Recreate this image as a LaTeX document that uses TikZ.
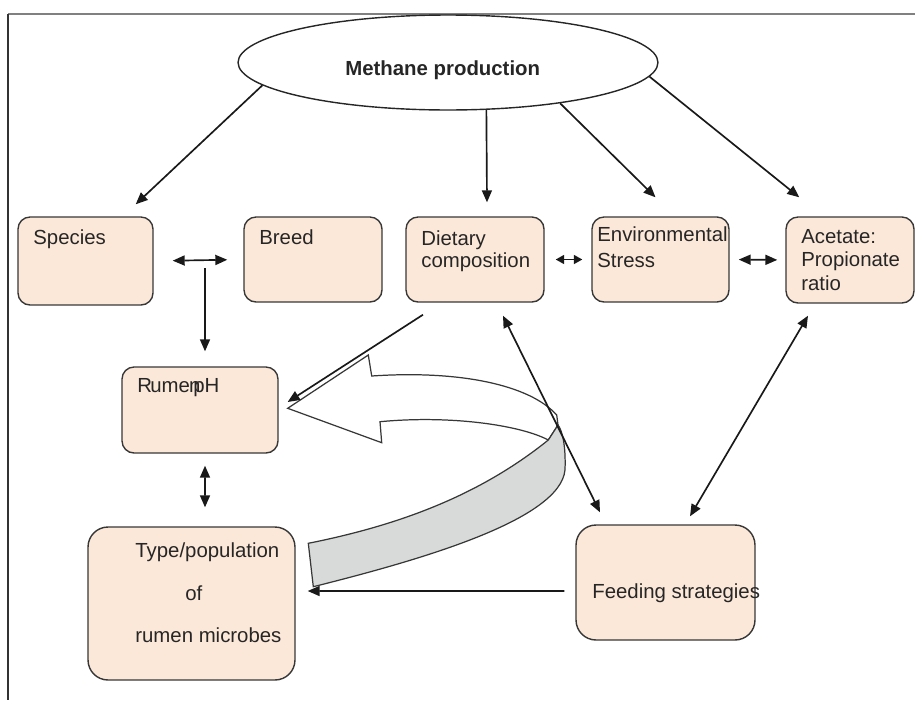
\documentclass[tikz,border=0pt]{standalone}
\usepackage{fontspec}
\setmainfont{Liberation Sans}
\usetikzlibrary{shapes.geometric,arrows.meta}
\definecolor{boxfill}{RGB}{252,232,217}
\definecolor{ribbon}{RGB}{216,218,217}
\definecolor{edge}{RGB}{55,55,55}
\begin{document}
\begin{tikzpicture}[x=0.02cm,y=-0.02cm,
  box/.style={draw=edge, line width=0.8pt, fill=boxfill, rounded corners=0.24cm, inner sep=0pt},
  txt/.style={inner sep=0pt, anchor=north west, align=left, text=black!85,
    font=\fontsize{11.6}{13.4}\selectfont},
  arr/.style={-{Triangle[length=0.24cm,width=0.2cm]}, line width=0.95pt, draw=black!90},
  dbl/.style={{Triangle[length=0.24cm,width=0.2cm]}-{Triangle[length=0.24cm,width=0.2cm]},
    line width=0.95pt, draw=black!90},
  shortdbl/.style={{Triangle[length=0.17cm,width=0.18cm]}-{Triangle[length=0.17cm,width=0.18cm]},
    line width=0.95pt, draw=black!90}]
  \useasboundingbox (0,0) rectangle (915,700);
  % frame
  \draw[gray, line width=1.1pt] (8,14) -- (915,14);
  \draw[black!80, line width=0.6pt] (8,14) -- (8,700);

  % twisted block arrow
  \draw[edge, line width=0.7pt, fill=white] (287.7,408.3) -- (368.3,355) -- (371.7,376)
    .. controls (460,370) and (530,385) .. (556.7,415) -- (558,425) -- (548.3,440)
    .. controls (520,425) and (450,415) .. (380,421.7) -- (381.7,442.7) -- cycle;
  \draw[edge, line width=0.7pt, fill=ribbon] (548.3,440)
    .. controls (480,495) and (400,525) .. (308.3,543.3) -- (313.3,586.7)
    .. controls (420,560) and (560,520) .. (565,470)
    .. controls (566,445) and (562,430) .. (558,425) -- cycle;

  \node[ellipse, draw=black!85, line width=0.8pt, minimum width=8.4cm, minimum height=1.9cm, inner sep=0pt] (meth) at (448,62.5) {};
  \node[box, minimum width=2.70cm, minimum height=1.76cm] (species) at (85.5,261) {};
  \node[box, minimum width=2.76cm, minimum height=1.70cm] (breed) at (313,259.5) {};
  \node[box, minimum width=2.76cm, minimum height=1.70cm] (diet) at (475,259.5) {};
  \node[box, minimum width=2.74cm, minimum height=1.70cm] (env) at (660.5,259.5) {};
  \node[box, minimum width=2.56cm, minimum height=1.72cm] (acet) at (850,260) {};
  \node[box, minimum width=3.12cm, minimum height=1.72cm] (ph) at (200,410) {};
  \node[box, minimum width=4.14cm, minimum height=3.06cm, rounded corners=0.4cm] (microbes) at (191.5,603.5) {};
  \node[box, minimum width=3.58cm, minimum height=2.30cm, rounded corners=0.4cm] (feed) at (665.5,582.5) {};

  \node[txt, font=\bfseries\fontsize{11.6}{13.4}\selectfont] (tmeth) at (345,60) {Methane production};
  \node[txt] (tspecies) at (33,229) {Species};
  \node[txt] (tbreed) at (259,229) {Breed};
  \node[txt] (tdiet) at (421,230) {Dietary\\[-0.9pt]composition};
  \node[txt] (tenv) at (597,226) {Environmental\\[1.4pt]Stress};
  \node[txt] (tacet) at (801,229) {Acetate:\\Propionate\\ratio};
  \node[txt] (tph) at (137,378) {R\kern-1pt ume\kern-.5pt n\kern-4pt pH};
  \node[txt] (tmicro) at (135,542) {Type/population\\[11pt]\hspace*{1cm}of\\[11pt]rumen microbes};
  \node[txt] (tfeed) at (592,583) {Feeding strategies};

  \foreach \ang/\dest/\dx/\dy in {187/species.north east/-18/-12, 309/diet.north/12/-14,
      340/env.north/-5/-19, 356/acet.north west/14/-19}
    \draw[arr] (meth.\ang) -- ([shift={(\dx,\dy)}]\dest);

  \coordinate (sb) at (205,268);
  \draw[dbl, shorten <=0.38cm, shorten >=0.32cm] (species.east) -- (breed.west);
  \draw[arr, shorten >=0.3cm] (sb) -- (sb |- ph.north);
  \draw[shortdbl, shorten <=0.22cm, shorten >=0.18cm] (diet.east) -- (env.west);
  \draw[dbl, shorten <=0.18cm, shorten >=0.16cm] (env.east) -- (acet.west);
  \draw[arr] ([shift={(-52,12)}]diet.south) -- ([shift={(9,-8)}]ph.east);
  \draw[dbl] ([shift={(28,13)}]diet.south) -- ([shift={(-65.5,-12)}]feed.north);
  \draw[dbl] ([shift={(-42,12)}]acet.south) -- ([shift={(24.5,-8)}]feed.north);
  \draw[dbl] ([shift={(5,12)}]ph.south) -- ([shift={(13.5,-19)}]microbes.north);
  \draw[arr] ([shift={(-11,8.5)}]feed.west) -- ([shift={(12,-12.5)}]microbes.east);
\end{tikzpicture}
\end{document}
